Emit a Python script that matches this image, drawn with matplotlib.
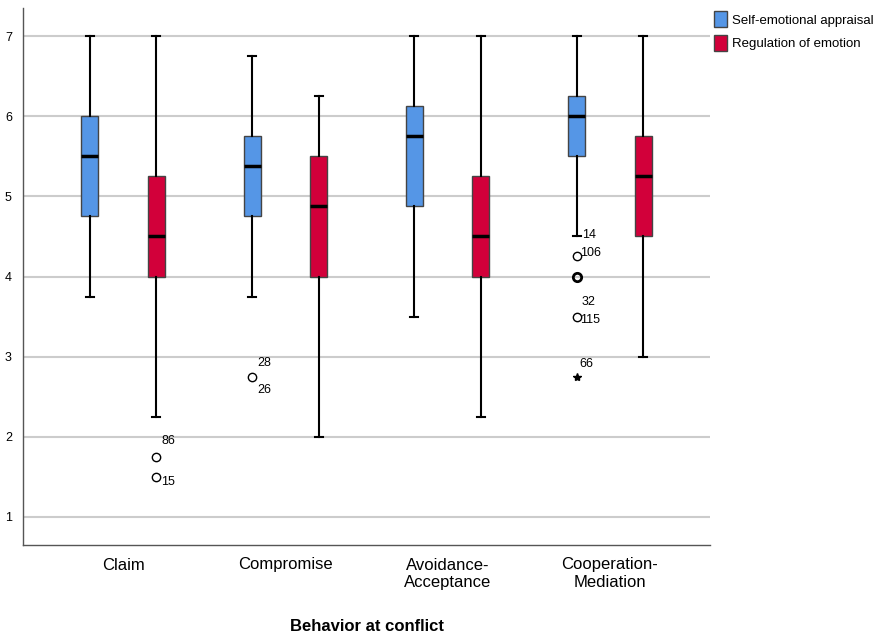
import matplotlib
matplotlib.use("Agg")
import matplotlib.pyplot as plt
from matplotlib.patches import Patch

plt.rcParams['font.family'] = ['Liberation Sans', 'DejaVu Sans']

categories = ["Claim", "Compromise", "Avoidance-\nAcceptance", "Cooperation-\nMediation"]
series = ["Self-emotional appraisal", "Regulation of emotion"]
colors = ["#5596E6", "#D2003A"]

# [whislo, q1, med, q3, whishi]
sea_stats = [
    [3.75, 4.75, 5.5, 6.0, 7.0],
    [3.75, 4.75, 5.375, 5.75, 6.75],
    [3.5, 4.875, 5.75, 6.125, 7.0],
    [4.5, 5.5, 6.0, 6.25, 7.0],
]
roe_stats = [
    [2.25, 4.0, 4.5, 5.25, 7.0],
    [2.0, 4.0, 4.875, 5.5, 6.25],
    [2.25, 4.0, 4.5, 5.25, 7.0],
    [3.0, 4.5, 5.25, 5.75, 7.0],
]
# outliers: (category index, series index, value, marker)
outliers = [
    (0, 1, 1.75, "o"),
    (0, 1, 1.5, "o"),
    (1, 0, 2.75, "o"),
    (3, 0, 4.25, "o"),
    (3, 0, 4.0, "O"),
    (3, 0, 3.5, "o"),
    (3, 0, 2.75, "*"),
]
# outlier case labels: (category index, series index, value, label)
case_labels = [
    (0, 1, 1.75, "86"),
    (0, 1, 1.5, "15"),
    (1, 0, 2.75, "28"),
    (1, 0, 2.75, "26"),
    (3, 0, 4.25, "14"),
    (3, 0, 4.25, "106"),
    (3, 0, 3.5, "32"),
    (3, 0, 3.5, "115"),
    (3, 0, 2.75, "66"),
]
label_offsets = {
    "86": (0.03, 0.20), "15": (0.03, -0.07),
    "28": (0.03, 0.17), "26": (0.03, -0.17),
    "14": (0.035, 0.27), "106": (0.02, 0.04),
    "32": (0.03, 0.18), "115": (0.02, -0.04),
    "66": (0.02, 0.16),
}

fig = plt.figure(figsize=(8.83, 6.38), dpi=100)
ax = fig.add_axes([23/883, 93/638, 687/883, 537/638])

offset = 0.205
width = 0.105
for s, stats in enumerate([sea_stats, roe_stats]):
    bxs = []
    for st in stats:
        bxs.append(dict(whislo=st[0], q1=st[1], med=st[2], q3=st[3], whishi=st[4], fliers=[]))
    pos = [i + (-offset if s == 0 else offset) for i in range(len(categories))]
    ax.bxp(bxs, positions=pos, widths=width, patch_artist=True, showfliers=False,
           boxprops=dict(facecolor=colors[s], edgecolor="#444444", linewidth=1.0),
           medianprops=dict(color="black", linewidth=2.5),
           whiskerprops=dict(color="black", linewidth=1.5),
           capprops=dict(color="black", linewidth=1.5),
           capwidths=0.05, zorder=3)

for ci, si, v, mk in outliers:
    x = ci + (-offset if si == 0 else offset)
    if mk == "o":
        ax.plot(x, v, marker="o", ms=6, mfc="none", mec="black", mew=1.0, zorder=4)
    elif mk == "O":
        ax.plot(x, v, marker="o", ms=6, mfc="none", mec="black", mew=2.0, zorder=4)
    else:
        ax.plot(x, v, marker="*", ms=6, color="black", zorder=4)

for ci, si, v, lab in case_labels:
    x = ci + (-offset if si == 0 else offset)
    dx, dy = label_offsets[lab]
    ax.text(x + dx, v + dy, lab, fontsize=9, ha="left", va="center", zorder=5)

ax.set_xlim(-0.617, 3.617)
ax.set_ylim(0.65, 7.35)
ax.set_yticks([1, 2, 3, 4, 5, 6, 7])
ax.set_xticks(range(len(categories)))
ax.set_xticklabels(categories, fontsize=12, linespacing=1.2)
ax.tick_params(axis="x", length=0, pad=9)
ax.tick_params(axis="y", length=0, labelsize=9, pad=8)
ax.yaxis.grid(True, color="#cccccc", linewidth=1.5, zorder=0)
ax.set_axisbelow(True)
for sp in ["top", "right"]:
    ax.spines[sp].set_visible(False)
for sp in ["left", "bottom"]:
    ax.spines[sp].set_color("#555555")
    ax.spines[sp].set_linewidth(1.0)
ax.set_xlabel("Behavior at conflict", fontsize=12, fontweight="bold", labelpad=21)

handles = [Patch(facecolor=c, edgecolor="#444444", label=l) for c, l in zip(colors, series)]
fig.legend(handles=handles, loc="upper left", bbox_to_anchor=(709/883, 1 - 6/638),
           frameon=False, fontsize=9.5, handlelength=1.0, handleheight=1.5,
           handletextpad=0.35, labelspacing=0.55, borderaxespad=0)

fig.savefig("out.png", dpi=100)
